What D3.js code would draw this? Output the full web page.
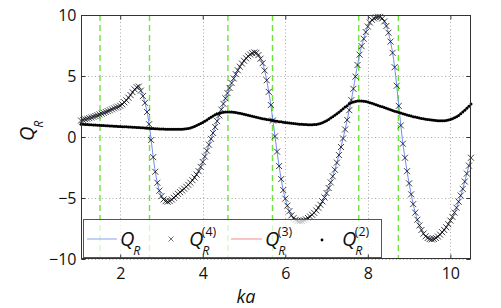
<!DOCTYPE html>
<html>
<head>
<meta charset="utf-8">
<script src="https://cdn.jsdelivr.net/npm/d3@7"></script>
<style>
  body { margin: 0; background: #fff; }
  svg text { font-family: "Open Sans", "DejaVu Sans", sans-serif; fill: #111; }
</style>
</head>
<body>
<svg id="chart"></svg>
<script>
// size of the picture
var width = 501,
    height = 308;
var margin = {top: 15, right: 30, bottom: 49, left: 81};

// sampling grid in ka (step 0.05 from 1.05 to 10.5)
var ka = d3.range(190).map(function(i) { return +(1.05 + i * 0.05).toFixed(2); });

// Q_R (and Q_R^(4), same curve)
var qR = [
  1.35, 1.40, 1.45, 1.50, 1.55, 1.60, 1.66, 1.72, 1.78, 1.85,
  1.91, 1.98, 2.05, 2.12, 2.19, 2.27, 2.35, 2.42, 2.48, 2.56,
  2.68, 2.84, 3.01, 3.22, 3.44, 3.67, 3.90, 4.08, 4.13, 3.80,
  3.35, 2.80, 2.05, 1.05, -0.25, -1.65, -2.85, -3.75, -4.40, -4.85,
  -5.12, -5.26, -5.30, -5.25, -5.13, -4.98, -4.82, -4.66, -4.52, -4.38,
  -4.24, -4.08, -3.92, -3.74, -3.54, -3.32, -3.08, -2.80, -2.45, -2.05,
  -1.60, -1.12, -0.63, -0.15, 0.33, 0.82, 1.30, 1.78, 2.25, 2.72,
  3.17, 3.60, 4.02, 4.42, 4.80, 5.15, 5.47, 5.76, 6.02, 6.25,
  6.45, 6.62, 6.76, 6.87, 6.93, 6.90, 6.72, 6.42, 6.05, 5.45,
  4.65, 3.70, 2.62, 1.35, 0.05, -1.20, -2.38, -3.45, -4.35, -5.05,
  -5.62, -6.08, -6.42, -6.65, -6.80, -6.87, -6.90, -6.88, -6.83, -6.75,
  -6.64, -6.52, -6.38, -6.22, -6.02, -5.80, -5.55, -5.28, -4.96, -4.60,
  -4.18, -3.72, -3.22, -2.68, -2.10, -1.48, -0.82, -0.12, 0.62, 1.40,
  2.20, 3.02, 3.95, 4.95, 5.90, 6.75, 7.45, 8.05, 8.60, 9.05,
  9.38, 9.60, 9.72, 9.80, 9.85, 9.84, 9.72, 9.48, 9.10, 8.55,
  7.82, 6.90, 5.72, 4.20, 2.55, 0.95, -0.55, -1.70, -2.80, -3.80,
  -4.70, -5.50, -6.20, -6.78, -7.25, -7.62, -7.92, -8.14, -8.28, -8.36,
  -8.39, -8.36, -8.28, -8.16, -8.00, -7.80, -7.62, -7.40, -7.15, -6.85,
  -6.55, -6.20, -5.80, -5.30, -4.80, -4.25, -3.65, -3.00, -2.35, -1.70
];

// Q_R^(2) (dots, with Q_R^(3) red line underneath)
var qR2 = [
  1.05, 1.04, 1.03, 1.02, 1.01, 1.00, 0.99, 0.98, 0.97, 0.96,
  0.95, 0.94, 0.93, 0.92, 0.91, 0.90, 0.89, 0.88, 0.87, 0.86,
  0.85, 0.84, 0.83, 0.82, 0.81, 0.80, 0.79, 0.78, 0.77, 0.76,
  0.75, 0.73, 0.72, 0.71, 0.70, 0.69, 0.68, 0.67, 0.66, 0.66,
  0.65, 0.64, 0.64, 0.63, 0.63, 0.63, 0.63, 0.63, 0.63, 0.64,
  0.65, 0.67, 0.70, 0.74, 0.79, 0.86, 0.94, 1.02, 1.10, 1.19,
  1.29, 1.40, 1.51, 1.62, 1.73, 1.82, 1.89, 1.95, 1.99, 2.02,
  2.04, 2.05, 2.05, 2.04, 2.02, 2.00, 1.97, 1.94, 1.90, 1.86,
  1.82, 1.78, 1.74, 1.70, 1.66, 1.62, 1.58, 1.54, 1.50, 1.47,
  1.44, 1.41, 1.38, 1.35, 1.32, 1.29, 1.26, 1.24, 1.21, 1.19,
  1.17, 1.15, 1.13, 1.11, 1.09, 1.07, 1.05, 1.04, 1.03, 1.02,
  1.01, 1.01, 1.01, 1.02, 1.03, 1.06, 1.10, 1.16, 1.24, 1.34,
  1.44, 1.55, 1.66, 1.78, 1.90, 2.03, 2.17, 2.31, 2.45, 2.57,
  2.72, 2.80, 2.87, 2.92, 2.95, 2.96, 2.95, 2.93, 2.90, 2.86,
  2.81, 2.76, 2.71, 2.65, 2.59, 2.53, 2.47, 2.41, 2.35, 2.29,
  2.23, 2.17, 2.11, 2.06, 2.01, 1.96, 1.91, 1.86, 1.81, 1.76,
  1.72, 1.67, 1.63, 1.59, 1.55, 1.52, 1.49, 1.46, 1.43, 1.41,
  1.39, 1.37, 1.35, 1.34, 1.33, 1.33, 1.34, 1.36, 1.39, 1.43,
  1.50, 1.57, 1.66, 1.77, 1.90, 2.05, 2.20, 2.36, 2.52, 2.70
];

// green dashed verticals
var markKa = [1.51, 2.71, 4.61, 5.69, 7.78, 8.74];

// ticks
var xTicks = [2, 4, 6, 8, 10],
    yTicks = [-10, -5, 0, 5, 10];

var svg = d3.select("#chart")
    .attr("width", width)
    .attr("height", height);

var x = d3.scaleLinear()
    .domain([1.05, 10.5])
    .range([margin.left, width - margin.right]);

var y = d3.scaleLinear()
    .domain([-10, 10])
    .range([height - margin.bottom, margin.top]);

var x0 = x.range()[0], x1 = x.range()[1],
    y0 = y.range()[1], y1 = y.range()[0];

// grid
var grid = svg.append("g")
    .attr("stroke", "#aaa")
    .attr("stroke-width", 1)
    .attr("stroke-dasharray", "1,2.5");

grid.selectAll("line.gx")
    .data(xTicks)
  .enter().append("line")
    .attr("x1", function(d) { return Math.round(x(d)) + 0.5; })
    .attr("x2", function(d) { return Math.round(x(d)) + 0.5; })
    .attr("y1", y0).attr("y2", y1);

grid.selectAll("line.gy")
    .data(yTicks)
  .enter().append("line")
    .attr("y1", function(d) { return Math.round(y(d)) + 0.5; })
    .attr("y2", function(d) { return Math.round(y(d)) + 0.5; })
    .attr("x1", x0).attr("x2", x1);

// green dashed lines
svg.append("g").selectAll("line")
    .data(markKa)
  .enter().append("line")
    .attr("x1", function(d) { return x(d); })
    .attr("x2", function(d) { return x(d); })
    .attr("y1", y0).attr("y2", y1)
    .attr("stroke", "#6ee33a")
    .attr("stroke-width", 1.4)
    .attr("stroke-dasharray", "6,4");

var pts = ka.map(function(k, i) { return {ka: k, q: qR[i], q2: qR2[i]}; });

// Q_R^(3) red line (under the dots)
svg.append("path")
    .datum(pts)
    .attr("fill", "none")
    .attr("stroke", "#f07a7a")
    .attr("stroke-width", 1)
    .attr("d", d3.line()
        .x(function(d) { return x(d.ka); })
        .y(function(d) { return y(d.q2); })
        .curve(d3.curveMonotoneX));

// Q_R blue line
svg.append("path")
    .datum(pts)
    .attr("fill", "none")
    .attr("stroke", "#6f8cf2")
    .attr("stroke-width", 1)
    .attr("d", d3.line()
        .x(function(d) { return x(d.ka); })
        .y(function(d) { return y(d.q); })
        .curve(d3.curveMonotoneX));

// Q_R^(4) cross markers
var cross = "M-3,-3L3,3M-3,3L3,-3";
svg.append("g").selectAll("path")
    .data(pts)
  .enter().append("path")
    .attr("transform", function(d) { return "translate(" + x(d.ka) + "," + y(d.q) + ")"; })
    .attr("d", cross)
    .attr("stroke", "#000")
    .attr("stroke-width", 0.75)
    .attr("fill", "none");

// Q_R^(2) dots
svg.append("g").selectAll("circle")
    .data(pts)
  .enter().append("circle")
    .attr("cx", function(d) { return x(d.ka); })
    .attr("cy", function(d) { return y(d.q2); })
    .attr("r", 1.5)
    .attr("fill", "#000");

// legend
var lg = svg.append("g");
lg.append("rect")
    .attr("x", 83.5).attr("y", 219.5)
    .attr("width", 298).attr("height", 38)
    .attr("fill", "#fff").attr("fill-opacity", 0.72)
    .attr("stroke", "#555").attr("stroke-width", 1);

var ly = 239;
lg.append("line").attr("x1", 87).attr("x2", 117).attr("y1", ly).attr("y2", ly)
    .attr("stroke", "#9fb0f4").attr("stroke-width", 1.2);
lg.append("path").attr("transform", "translate(171," + ly + ")")
    .attr("d", "M-2.5,-2.5L2.5,2.5M-2.5,2.5L2.5,-2.5")
    .attr("stroke", "#333").attr("stroke-width", 0.7);
lg.append("line").attr("x1", 231).attr("x2", 262).attr("y1", ly).attr("y2", ly)
    .attr("stroke", "#f4a0a0").attr("stroke-width", 1.2);
lg.append("circle").attr("cx", 322).attr("cy", ly + 1).attr("r", 1.4).attr("fill", "#000");

var labels = [
  {x: 120, sup: null},
  {x: 189, sup: "(4)"},
  {x: 265, sup: "(3)"},
  {x: 342, sup: "(2)"}
];

// Q with subscript R and optional stacked superscript, as one text element
function qLabel(g, lx, base, sup, fs) {
  var small = fs * 0.62;
  var t = g.append("text").attr("x", lx).attr("y", base)
      .style("font-size", fs + "px");
  t.append("tspan").style("font-style", "italic").text("Q");
  t.append("tspan").attr("x", lx + fs * 0.66).attr("dy", fs * 0.45)
      .style("font-style", "italic").style("font-size", small + "px").text("R");
  if (sup) {
    t.append("tspan").attr("x", lx + fs * 0.64).attr("dy", -fs * 0.95)
        .style("font-size", small + "px").text(sup);
  }
}

labels.forEach(function(l) { qLabel(lg, l.x, 246, l.sup, 20); });

// axes box and ticks
svg.append("rect")
    .attr("x", x0 + 0.5).attr("y", y0 + 0.5)
    .attr("width", x1 - x0 - 1).attr("height", y1 - y0 - 1)
    .attr("fill", "none").attr("stroke", "#333").attr("stroke-width", 1);

var xAxis = svg.append("g")
    .attr("transform", "translate(0," + (y1 - 0.5) + ")")
    .call(d3.axisBottom(x).tickValues(xTicks).tickSize(-4).tickPadding(9).tickFormat(d3.format("d")));
var xAxisTop = svg.append("g")
    .attr("transform", "translate(0," + (y0 + 0.5) + ")")
    .call(d3.axisTop(x).tickValues(xTicks).tickSize(-4).tickFormat(""));
var yAxis = svg.append("g")
    .attr("transform", "translate(" + (x0 + 0.5) + ",0)")
    .call(d3.axisLeft(y).tickValues(yTicks).tickSize(-4).tickPadding(5));
var yAxisRight = svg.append("g")
    .attr("transform", "translate(" + (x1 - 0.5) + ",0)")
    .call(d3.axisRight(y).tickValues(yTicks).tickSize(-4).tickFormat(""));

[xAxis, xAxisTop, yAxis, yAxisRight].forEach(function(a) {
  a.select(".domain").remove();
  a.selectAll("line").attr("stroke", "#333");
  a.selectAll("text").style("font-size", "16px").attr("fill", "#111")
      .style("font-family", "'Open Sans', 'DejaVu Sans', sans-serif");
});

// axis titles
svg.append("text")
    .attr("x", 246).attr("y", 303)
    .attr("text-anchor", "middle")
    .style("font-style", "italic").style("font-size", "18px")
    .text("ka");

var yl = svg.append("g").attr("transform", "translate(34,141) rotate(-90)");
qLabel(yl, 0, 0, null, 20);
</script>
</body>
</html>
